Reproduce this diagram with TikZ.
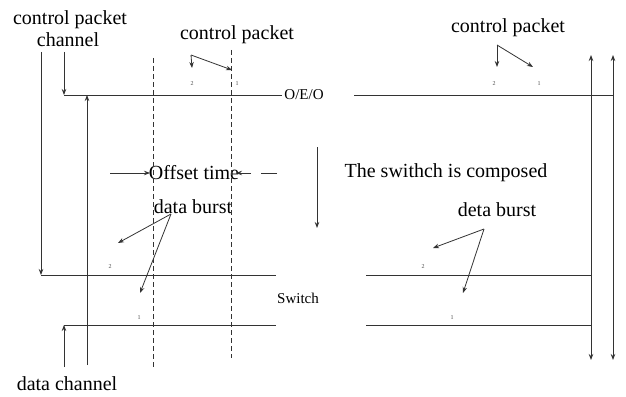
\documentclass[tikz,border=0pt]{standalone}
\usepackage{fontspec}
\setmainfont{Liberation Serif}
\usetikzlibrary{arrows.meta}
\begin{document}
\begin{tikzpicture}[x=1pt,y=-1pt,
  ln/.style={line width=0.8pt,black!80},
  arr/.style={ln,-{Stealth[length=6pt,width=4.5pt]}},
  darr/.style={ln,{Stealth[length=6pt,width=4.5pt]}-{Stealth[length=6pt,width=4.5pt]}},
  dsh/.style={line width=0.7pt,black!80,dash pattern=on 5pt off 3pt},
  big/.style={font=\fontsize{20}{24}\selectfont,anchor=base,inner sep=0pt},
  mid/.style={font=\fontsize{15}{18}\selectfont,anchor=base,inner sep=0pt},
  tiny/.style={font=\fontsize{6}{7}\selectfont,inner sep=0pt,text=black!70}]
\useasboundingbox (0,0) rectangle (626,396);
% texts
\node[big] (cpc1) at (70,25) {control packet};
\node[big] (cpc2) at (68,47) {channel};
\node[big] (cp1) at (237,40) {control packet};
\node[big] (cp2) at (508,33) {control packet};
\node[mid] (oeo) at (304,99) {O/E/O};
\node[big] (off) at (194,179) {Offset time};
\node[big] (db1) at (193,213) {data burst};
\node[big] (comp) at (446,177) {The swithch is composed};
\node[big] (db2) at (497,216) {deta burst};
\node[mid] (sw) at (298,303) {Switch};
\node[big] (dch) at (67,390) {data channel};
% small labels
\node[tiny] (t2a) at (192,84) {2};
\node[tiny] (t1a) at (237,84) {1};
\node[tiny] (t2b) at (494,84) {2};
\node[tiny] (t1b) at (539,84) {1};
\node[tiny] (m2a) at (110,267) {2};
\node[tiny] (m2b) at (423,267) {2};
\node[tiny] (b1a) at (139,318) {1};
\node[tiny] (b1b) at (452,318) {1};
% coordinates
\coordinate (a0) at (41,52);
\coordinate (a1) at (41,275);
\coordinate (a2) at (276,275);
\coordinate (a3) at (366,275);
\coordinate (a4) at (591,275);
\coordinate (c0) at (64,52);
\coordinate (c1) at (64,95);
\coordinate (c2) at (282,95);
\coordinate (c3) at (354,95);
\coordinate (c4) at (613,95);
\coordinate (d0) at (64,367);
\coordinate (d1) at (64,325);
\coordinate (d2) at (276,325);
\coordinate (d3) at (366,325);
\coordinate (d4) at (591,325);
\coordinate (u0) at (87,365);
\coordinate (u1) at (87,95);
\coordinate (v1t) at (153,58);
\coordinate (v1b) at (153,367);
\coordinate (v2t) at (231,50);
\coordinate (v2b) at (231,358);
\coordinate (r1t) at (591,55);
\coordinate (r1b) at (591,360);
\coordinate (r2t) at (613,55);
\coordinate (r2b) at (613,360);
\coordinate (s0) at (317,147);
\coordinate (s1) at (317,228);
\coordinate (o0) at (110,173);
\coordinate (o1) at (150,173);
\coordinate (o2) at (277,173);
\coordinate (o3) at (236,173);
\coordinate (p0) at (191,55);
\coordinate (p1) at (192,68);
\coordinate (p2) at (232,70);
\coordinate (q0) at (497,45);
\coordinate (q1) at (497,67);
\coordinate (q2) at (533,67);
\coordinate (e0) at (171,214);
\coordinate (e1) at (118,243);
\coordinate (e2) at (140,293);
\coordinate (f0) at (484,229);
\coordinate (f1) at (433,248);
\coordinate (f2) at (463,293);
% lines
\draw[arr] (a0) -- (a1);
\draw[ln] (a1) -- (a2);
\draw[ln] (a3) -- (a4);
\draw[arr] (c0) -- (c1);
\draw[ln] (c1) -- (c2);
\draw[ln] (c3) -- (c4);
\draw[arr] (d0) -- (d1);
\draw[ln] (d1) -- (d2);
\draw[ln] (d3) -- (d4);
\draw[arr] (u0) -- (u1);
\draw[dsh] (v1t) -- (v1b);
\draw[dsh] (v2t) -- (v2b);
\draw[darr] (r1t) -- (r1b);
\draw[darr] (r2t) -- (r2b);
\draw[arr] (s0) -- (s1);
\draw[arr] (o0) -- (o1);
\draw[arr,dash pattern=on 16pt off 10pt] (o2) -- (o3);
\draw[arr] (p0) -- (p1);
\draw[arr] (p0) -- (p2);
\draw[arr] (q0) -- (q1);
\draw[arr] (q0) -- (q2);
\draw[arr] (e0) -- (e1);
\draw[arr] (e0) -- (e2);
\draw[arr] (f0) -- (f1);
\draw[arr] (f0) -- (f2);
\end{tikzpicture}
\end{document}
